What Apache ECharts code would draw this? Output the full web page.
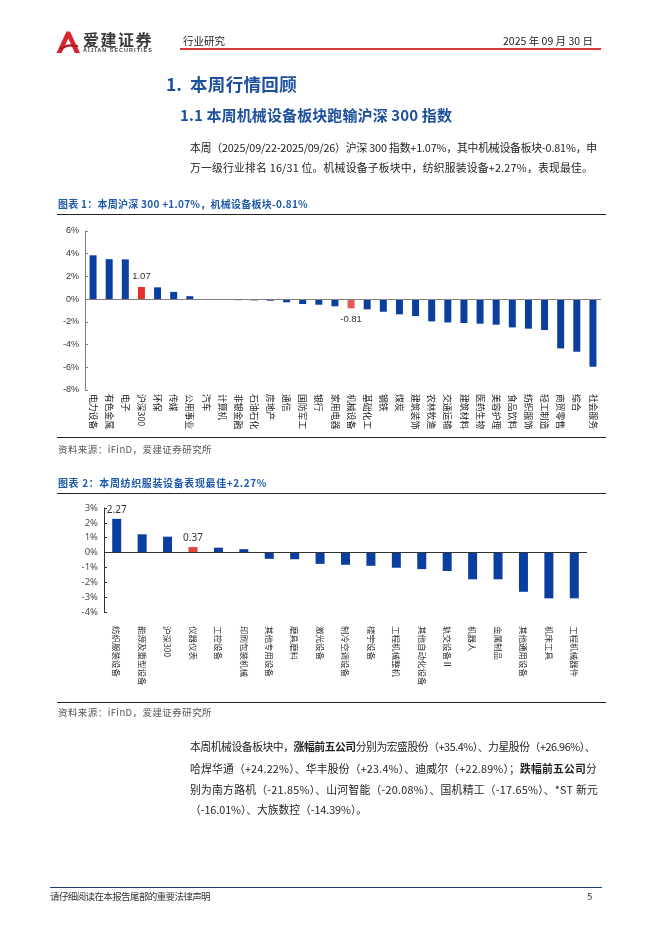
<!DOCTYPE html>
<html><head><meta charset="utf-8">
<script src="https://cdn.jsdelivr.net/npm/echarts@6/dist/echarts.min.js"></script>
<style>
html,body{margin:0;padding:0;background:#fff;}
#page{position:relative;width:662px;height:936px;overflow:hidden;font-family:"Noto Sans CJK SC","Noto Sans",sans-serif;color:#222;}
#chart{position:absolute;left:0;top:0;width:662px;height:936px;}
.t{position:absolute;white-space:nowrap;display:inline-block;}
.hl{position:absolute;}
.blue{color:#1d4f9f;font-weight:bold;}
.fig{color:#1f5aa8;font-weight:bold;font-size:10px;line-height:14px;}
.body{font-size:10.8px;line-height:16px;color:#222;}
.src{font-size:9.5px;line-height:13px;color:#555;}
</style>
</head><body>
<div id="page">
  <div id="chart"></div>
  <svg class="hl" style="left:56px;top:31px" width="24" height="22" viewBox="0 0 24 22">
    <path d="M0.5 22 L10.5 0.5 L14 0.5 L24 22 L18.8 22 L12.3 7.5 L5.6 22 Z" fill="#d7262c"/>
    <path d="M3.5 17.5 Q12 11 22.5 14.5 L21.5 16.6 Q12 13.6 5.2 19.6 Z" fill="#b01c22"/>
  </svg>
  <div class="t" style="left:83px;top:31px;font-size:16px;line-height:17px;font-weight:bold;color:#3b3b3b;" data-w="70">爱建证券</div>
  <div class="t" style="left:83px;top:47px;font-size:5.5px;line-height:6px;color:#444;font-family:'Liberation Sans',sans-serif;font-weight:bold;" data-w="70">AIJIAN SECURITIES</div>
  <div class="t" style="left:183px;top:34px;font-size:10.5px;line-height:13px;">行业研究</div>
  <div class="t" style="left:503px;top:34px;font-size:10.5px;line-height:13px;" data-w="90">2025 年 09 月 30 日</div>
  <div class="hl" style="left:180px;top:47.5px;width:421px;height:2.5px;background:#d6393a;"></div>

  <div class="t blue" style="left:166px;top:74px;font-size:17.5px;line-height:20px;">1.</div>
  <div class="t blue" style="left:190px;top:74px;font-size:17.5px;line-height:20px;" data-w="107">本周行情回顾</div>
  <div class="t blue" style="left:180px;top:106px;font-size:15px;line-height:18px;" data-w="272">1.1 本周机械设备板块跑输沪深 300 指数</div>

  <div class="t body" style="left:190px;top:139px;" data-w="407">本周（2025/09/22-2025/09/26）沪深 300 指数+1.07%，其中机械设备板块-0.81%，申</div>
  <div class="t body" style="left:190px;top:159px;" data-w="403">万一级行业排名 16/31 位。机械设备子板块中，纺织服装设备+2.27%，表现最佳。</div>

  <div class="t fig" style="left:58px;top:197px;" data-w="250">图表 1：本周沪深 300 +1.07%，机械设备板块-0.81%</div>
  <div class="hl" style="left:57px;top:213.5px;width:549px;height:1.3px;background:#222;"></div>
  <div class="hl" style="left:57px;top:437px;width:549px;height:1.3px;background:#222;"></div>
  <div class="t src" style="left:58px;top:443px;" data-w="154">资料来源：iFinD，爱建证券研究所</div>

  <div class="t fig" style="left:58px;top:476px;" data-w="209">图表 2：本周纺织服装设备表现最佳+2.27%</div>
  <div class="hl" style="left:57px;top:493px;width:549px;height:1.3px;background:#222;"></div>
  <div class="hl" style="left:57px;top:701.5px;width:549px;height:1.3px;background:#222;"></div>
  <div class="t src" style="left:58px;top:706px;" data-w="154">资料来源：iFinD，爱建证券研究所</div>

  <div class="t body" style="left:190px;top:738px;" data-w="405">本周机械设备板块中，<b>涨幅前五公司</b>分别为宏盛股份（+35.4%）、力星股份（+26.96%）、</div>
  <div class="t body" style="left:190px;top:760px;" data-w="407">哈焊华通（+24.22%）、华丰股份（+23.4%）、迪威尔（+22.89%）；<b>跌幅前五公司</b>分</div>
  <div class="t body" style="left:190px;top:781px;" data-w="408">别为南方路机（-21.85%）、山河智能（-20.08%）、国机精工（-17.65%）、*ST 新元</div>
  <div class="t body" style="left:190px;top:801px;" data-w="177">（-16.01%）、大族数控（-14.39%）。</div>

  <div class="hl" style="left:50px;top:886.5px;width:552px;height:1.3px;background:#1f3f7a;"></div>
  <div class="t" style="left:50px;top:890px;font-size:9.5px;line-height:13px;color:#333;" data-w="160">请仔细阅读在本报告尾部的重要法律声明</div>
  <div class="t" style="left:587px;top:890px;font-size:9.5px;line-height:13px;color:#333;">5</div>
</div>
<script>
// ---- data ----
const cats1 = ['电力设备','有色金属','电子','沪深300','环保','传媒','公用事业','汽车','计算机','非银金融','石油石化','房地产','通信','国防军工','银行','家用电器','机械设备','基础化工','钢铁','煤炭','建筑装饰','农林牧渔','交通运输','建筑材料','医药生物','美容护理','食品饮料','纺织服饰','轻工制造','商贸零售','综合','社会服务'];
const vals1 = [3.86,3.52,3.50,1.07,1.04,0.64,0.26,-0.02,-0.06,-0.09,-0.11,-0.14,-0.28,-0.43,-0.49,-0.63,-0.81,-0.90,-1.11,-1.34,-1.49,-1.96,-2.05,-2.10,-2.16,-2.25,-2.49,-2.60,-2.72,-4.34,-4.63,-5.95];
const yAxis1 = [-8, 6, 2];   // min, max, interval (%)

const cats2 = ['纺织服装设备','能源及重型设备','沪深300','仪器仪表','工控设备','印刷包装机械','其他专用设备','磨具磨料','激光设备','制冷空调设备','楼宇设备','工程机械整机','其他自动化设备','轨交设备Ⅱ','机器人','金属制品','其他通用设备','机床工具','工程机械器件'];
const vals2 = [2.27,1.23,1.07,0.37,0.33,0.23,-0.42,-0.45,-0.76,-0.82,-0.89,-1.02,-1.11,-1.24,-1.80,-1.80,-2.64,-3.08,-3.08];
const yAxis2 = [-4, 3, 1];

const labeled1 = ['沪深300','机械设备'];
const labeled2 = ['纺织服装设备','仪器仪表'];

// ---- styles ----
const BLUE = '#0b3f9f';
const red1 = {'沪深300':'#e5312b','机械设备':'#e25b57'};
const red2 = {'仪器仪表':'#e0453f'};

function build(cats, vals, reds, labeled, lblFont, lblSize, dist){
  return vals.map((v,i)=>{
    const c = cats[i];
    const o = {value:v, itemStyle:{color: reds[c] || BLUE}};
    if(labeled.indexOf(c) >= 0){
      o.label = {show:true, position: v>=0?'top':'bottom', distance: dist,
        formatter: p=>p.value.toFixed(2), fontFamily: lblFont, fontSize: lblSize, color:'#333'};
    }
    return o;
  });
}

const chart = echarts.init(document.getElementById('chart'), null, {renderer:'canvas'});
chart.setOption({
  animation:false,
  grid:[
    {left:85, top:231, width:516, height:159},
    {left:104, top:508, width:483, height:104}
  ],
  xAxis:[
    {gridIndex:0, type:'category', data:cats1,
     axisLine:{show:false, onZero:false}, axisTick:{show:false},
     axisLabel:{interval:0, rotate:-90, margin:4, fontFamily:'Noto Sans CJK SC', fontSize:8.8, color:'#222'}},
    {gridIndex:1, type:'category', data:cats2,
     axisLine:{show:false, onZero:false}, axisTick:{show:false},
     axisLabel:{interval:0, rotate:-90, margin:14, fontFamily:'Noto Sans CJK SC', fontSize:8.5, color:'#333'}}
  ],
  yAxis:[
    {gridIndex:0, type:'value', min:yAxis1[0], max:yAxis1[1], interval:yAxis1[2],
     splitLine:{show:false},
     axisLine:{show:true, lineStyle:{color:'#7f7f7f', width:1}},
     axisTick:{show:true, inside:true, length:3, lineStyle:{color:'#7f7f7f'}},
     axisLabel:{formatter:'{value}%', margin:6, fontFamily:'Liberation Sans', fontSize:9, color:'#333'}},
    {gridIndex:1, type:'value', min:yAxis2[0], max:yAxis2[1], interval:yAxis2[2],
     splitLine:{show:false},
     axisLine:{show:true, lineStyle:{color:'#333', width:1}},
     axisTick:{show:true, inside:true, length:3, lineStyle:{color:'#333'}},
     axisLabel:{formatter:'{value}%', margin:6, fontFamily:'Noto Sans', fontSize:9.5, color:'#4d4d4d'}}
  ],
  series:[
    {type:'bar', xAxisIndex:0, yAxisIndex:0, barWidth:7,
     data: build(cats1, vals1, red1, labeled1, 'Liberation Sans', 9.5, 6),
     markLine:{silent:true, symbol:'none', animation:false, label:{show:false},
       lineStyle:{color:'#7f7f7f', width:1, type:'solid'}, data:[{yAxis:0}]}},
    {type:'bar', xAxisIndex:1, yAxisIndex:1, barWidth:9,
     data: build(cats2, vals2, red2, labeled2, 'Noto Sans', 10, 4),
     markLine:{silent:true, symbol:'none', animation:false, label:{show:false},
       lineStyle:{color:'#333', width:1, type:'solid'}, data:[{yAxis:0}]}}
  ]
});

// fit text widths
document.querySelectorAll('[data-w]').forEach(el=>{
  const target = +el.dataset.w;
  el.style.letterSpacing = '0px';
  const w = el.getBoundingClientRect().width;
  const n = el.textContent.length;
  el.style.letterSpacing = ((target - w) / n) + 'px';
});
</script>
</body></html>
